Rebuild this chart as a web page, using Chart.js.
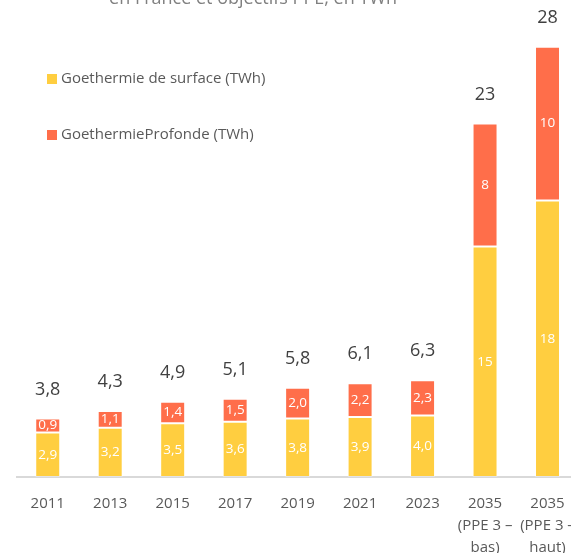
<!DOCTYPE html>
<html><head><meta charset="utf-8">
<script src="https://cdn.jsdelivr.net/npm/chart.js@4.4.1/dist/chart.umd.min.js"></script>
<style>
html,body{margin:0;padding:0;background:#fff;overflow:hidden;width:571px;height:553px;}
#wrap{position:absolute;left:0;top:0;width:600px;height:553px;}
</style></head>
<body><div id="wrap"><canvas id="c"></canvas></div>
<script>
const categories = [
  "2011","2013","2015","2017","2019","2021","2023",
  ["2035","(PPE 3 –","bas)"],
  ["2035","(PPE 3 –","haut)"]
];
const surfaceValues = [2.9, 3.2, 3.5, 3.6, 3.8, 3.9, 4.0, 15, 18];
const profondeValues = [0.9, 1.1, 1.4, 1.5, 2.0, 2.2, 2.3, 8, 10];
const totalLabels = ["3,8","4,3","4,9","5,1","5,8","6,1","6,3","23","28"];
const surfaceLabels = ["2,9","3,2","3,5","3,6","3,8","3,9","4,0","15","18"];
const profondeLabels = ["0,9","1,1","1,4","1,5","2,0","2,2","2,3","8","10"];
const seriesNames = ["Goethermie de surface (TWh)", "GoethermieProfonde (TWh)"];
const titleLine = "en France et objectifs PPE, en TWh";

const FONT = "'Open Sans', 'DejaVu Sans', sans-serif";

const labelPlugin = {
  id: 'customLabels',
  afterDatasetsDraw(chart) {
    const ctx = chart.ctx;
    ctx.save();
    ctx.textAlign = 'center';
    ctx.textBaseline = 'middle';
    const segTexts = [surfaceLabels, profondeLabels];
    chart.data.datasets.forEach((ds, di) => {
      const meta = chart.getDatasetMeta(di);
      meta.data.forEach((bar, i) => {
        ctx.font = "13.5px " + FONT;
        ctx.fillStyle = '#ffffff';
        ctx.fillText(segTexts[di][i], bar.x, (bar.y + bar.base) / 2);
      });
    });
    const topMeta = chart.getDatasetMeta(1);
    topMeta.data.forEach((bar, i) => {
      ctx.font = "18px " + FONT;
      ctx.fillStyle = '#404040';
      ctx.fillText(totalLabels[i], bar.x, bar.y - 29);
    });
    chart.data.datasets.forEach((ds, di) => {
      const y = 79 + di * 56;
      ctx.fillStyle = ds.backgroundColor;
      ctx.fillRect(47, y - 5, 10, 10);
      ctx.font = "15px " + FONT;
      ctx.fillStyle = '#595959';
      ctx.textAlign = 'left';
      ctx.fillText(ds.label, 61, y);
    });
    ctx.textAlign = 'center';
    ctx.textBaseline = 'alphabetic';
    ctx.font = "18px " + FONT;
    ctx.fillStyle = '#808080';
    ctx.fillText(titleLine, 253, 4);
    ctx.restore();
  }
};

new Chart(document.getElementById('c'), {
  type: 'bar',
  data: {
    labels: categories,
    datasets: [
      { label: seriesNames[0], data: surfaceValues, backgroundColor: '#FFCE40',
        borderColor: 'rgba(255,255,255,0.3)', borderWidth: 1, borderSkipped: false,
        barPercentage: 0.8, categoryPercentage: 0.5 },
      { label: seriesNames[1], data: profondeValues, backgroundColor: '#FF6E4A',
        borderColor: 'rgba(255,255,255,0.3)', borderWidth: 1, borderSkipped: false,
        barPercentage: 0.8, categoryPercentage: 0.5 }
    ]
  },
  options: {
    responsive: true,
    maintainAspectRatio: false,
    animation: false,
    layout: { padding: { left: 16.5, right: 21.25, top: 16, bottom: 0 } },
    plugins: { legend: { display: false }, title: { display: false }, tooltip: { enabled: false } },
    scales: {
      x: {
        stacked: true,
        grid: { display: false, drawTicks: false },
        border: { display: true, color: '#d9d9d9', width: 2 },
        ticks: { color: '#595959', font: { family: FONT, size: 15, lineHeight: 1.47 }, padding: 16, maxRotation: 0, autoSkip: false },
        afterFit(s) { s.height = 76; }
      },
      y: {
        stacked: true, display: false, min: 0, max: 30
      }
    }
  },
  plugins: [labelPlugin]
});
</script>
</body></html>
